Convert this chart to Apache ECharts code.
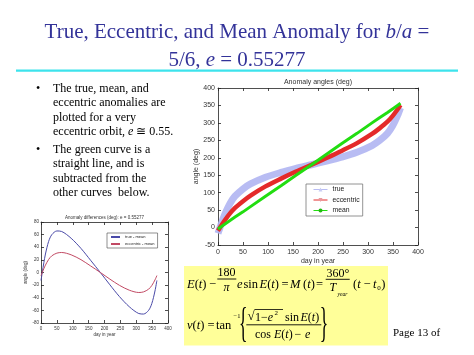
<!DOCTYPE html>
<html><head><meta charset="utf-8">
<script src="https://cdn.jsdelivr.net/npm/echarts@6/dist/echarts.min.js"></script>
<style>html,body{margin:0;padding:0;background:#fff}#c{width:474px;height:355px}</style>
</head><body><div id="c"></div>
<script>
// ---- data ----
const days = [0, 2, 4, 9, 14, 24, 34, 50, 65, 95, 126, 156, 187, 217, 247, 278, 308, 323, 339, 349, 359, 365];
const trueAngle = [-16.6, -8.3, 0, 20.6, 39.3, 69.2, 89.9, 110.8, 125.0, 144.2, 158.1, 169.5, 180, 190.5, 201.9, 215.8, 235.0, 249.2, 270.1, 290.8, 320.7, 343.4];
const eccentricAngle = [-8.9, -4.5, 0, 11.1, 21.7, 40.6, 56.4, 75.7, 91.7, 118.0, 140.3, 160.5, 180, 199.5, 219.7, 242.0, 268.3, 284.3, 303.6, 319.4, 338.3, 351.1];
const meanAngle = [-4, -2, 0, 5, 10, 20, 30, 45, 60, 90, 120, 150, 180, 210, 240, 270, 300, 315, 330, 340, 350, 356];
const trueMinusMean = [-12.6, -6.3, 0, 15.6, 29.3, 49.2, 59.9, 65.8, 65.0, 54.2, 38.1, 19.5, 0, -19.5, -38.1, -54.2, -65.0, -65.8, -59.9, -49.2, -29.3, -12.6];
const eccMinusMean = [-4.9, -2.5, 0, 6.1, 11.7, 20.6, 26.4, 30.7, 31.7, 28.0, 20.3, 10.5, 0, -10.5, -20.3, -28.0, -31.7, -30.7, -26.4, -20.6, -11.7, -4.9];
const mainSeriesNames = ['true', 'eccentric', 'mean'];
const diffSeriesNames = ['true - mean', 'eccentric - mean'];

const pair = arr => days.map((d, i) => [d, arr[i]]);
const SERIF = 'Liberation Serif';
const SANS = 'Liberation Sans';
const axisCol = '#222';

function boxAxes(gridIndex, min, max, interval, isX, fs, margin) {
  const base = {
    gridIndex, type: 'value', min, max, interval,
    axisLine: { show: true, onZero: false, lineStyle: { color: axisCol, width: 0.8 } },
    axisTick: { show: true, inside: true, length: 3, lineStyle: { color: axisCol, width: 0.8 } },
    splitLine: { show: false },
  };
  const a = Object.assign({}, base, {
    position: isX ? 'bottom' : 'left',
    axisLabel: { fontSize: fs, color: '#333', fontFamily: SANS, margin },
  });
  const b = Object.assign({}, base, {
    position: isX ? 'top' : 'right',
    axisLabel: { show: false },
  });
  return [a, b];
}

const mX = boxAxes(0, 0, 400, 50, true, 7, 4);
const mY = boxAxes(0, -50, 400, 50, false, 7, 3);
const sX = boxAxes(1, 0, 400, 50, true, 4.5, 3);
const sY = boxAxes(1, -80, 80, 20, false, 4.5, 2);
mX[0].name = 'day in year'; mX[0].nameLocation = 'middle'; mX[0].nameGap = 13;
mX[0].nameTextStyle = { fontSize: 7, color: '#333', fontFamily: SANS };
mY[0].name = 'angle (deg)'; mY[0].nameLocation = 'middle'; mY[0].nameGap = 17;
mY[0].nameTextStyle = { fontSize: 7, color: '#333', fontFamily: SANS };
sX[0].name = 'day in year'; sX[0].nameLocation = 'middle'; sX[0].nameGap = 8;
sX[0].nameTextStyle = { fontSize: 4.5, color: '#333', fontFamily: SANS };
sY[0].name = 'angle (deg)'; sY[0].nameLocation = 'middle'; sY[0].nameGap = 9;
sY[0].nameTextStyle = { fontSize: 4.5, color: '#333', fontFamily: SANS };

function txt(x, y, text, size, opt) {
  opt = opt || {};
  return {
    type: 'text', x, y, z: 10,
    style: Object.assign({
      text, fontSize: size, fontFamily: SERIF, fill: '#000',
      textAlign: 'left', align: 'left', textVerticalAlign: 'middle', verticalAlign: 'middle',
      rich: {
        i: { fontStyle: 'italic', fontSize: size, fontFamily: SERIF, fill: opt.fill || '#000' },
      }
    }, opt)
  };
}
const ctr = { textAlign: 'center', align: 'center' };
function hline(x1, x2, y, w, col) {
  return { type: 'line', z: 10, shape: { x1, y1: y, x2, y2: y }, style: { stroke: col || '#000', lineWidth: w || 1 } };
}
function brace(x, y, ch) {
  return { type: 'text', x, y, z: 10, scaleX: 0.42, style: { text: ch, fontSize: 42, fontFamily: SERIF, fill: '#000', textAlign: 'center', align: 'center', textVerticalAlign: 'middle', verticalAlign: 'middle' } };
}

const titleCol = '#333399';
const bullets = [
  ['The true, mean, and', 89],
  ['eccentric anomalies are', 103.2],
  ['plotted for a very', 117.4],
  ['eccentric orbit, {i|e} \u2245 0.55.', 131.6],
  ['The green curve is a', 150],
  ['straight line, and is', 164.2],
  ['subtracted from the', 178.4],
  ['other curves  below.', 192.6],
];

const F = 12.5, L1 = 284.5, L2 = 325.5;
const graphics = [
  txt(237, 32, 'True, Eccentric, and Mean Anomaly for {i|b}/{i|a} =', 21, Object.assign({ fill: titleCol }, ctr)),
  txt(237, 60.5, '5/6, {i|e} = 0.55277', 21, Object.assign({ fill: titleCol }, ctr)),
  hline(16, 458, 70.7, 2.2, '#3de3ec'),
  txt(36, 89, '\u2022', 12), txt(36, 150, '\u2022', 12),
  // formula box
  { type: 'rect', z: 5, shape: { x: 184, y: 266, width: 204, height: 79.5 }, style: { fill: '#ffff99' } },
  // line 1
  txt(187, L1, '{i|E}({i|t})', F),
  txt(209, L1, '\u2212', F),
  txt(226.5, 273, '180', 12, ctr),
  hline(217.3, 236.3, 279, 0.9),
  txt(226.5, 287.5, '{i|\u03c0}', 12, ctr),
  txt(237, L1, '{i|e}', F),
  txt(243.5, L1, 'sin', F),
  txt(259.5, L1, '{i|E}({i|t})', F),
  txt(281.5, L1, '=', F),
  txt(290, L1, '{i|M}', F),
  txt(303, L1, '({i|t})', F),
  txt(316, L1, '=', F),
  txt(338, 273.5, '360\u00b0', 12, ctr),
  hline(325.7, 349.7, 279.3, 0.9),
  txt(329.5, 287.5, '{i|T}', 12),
  txt(337.5, 295, '{i|year}', 5.5),
  txt(353, L1, '({i|t}', F),
  txt(363.5, L1, '\u2212', F),
  txt(373, L1, '{i|t}', F),
  txt(377.3, 288, '0', 7),
  txt(381.3, L1, ')', F),
  // line 2
  txt(187, L2, '{i|\u03bd}({i|t})', F),
  txt(207.5, L2, '=', F),
  txt(216, L2, 'tan', F),
  txt(233.5, 316, '\u22121', 6.5),
  brace(243.3, 324.5, '{'),
  txt(247.5, 317, '\u221a', 13),
  hline(254.5, 283, 309.5, 0.8),
  txt(255, 317.5, '1\u2212{i|e}', 12),
  txt(274.5, 313, '2', 7),
  txt(285, 317.5, 'sin', 12),
  txt(300.5, 317.5, '{i|E}({i|t})', 12),
  hline(246.3, 321.3, 324.8, 0.9),
  txt(255, 335, 'cos', 12),
  txt(274, 335, '{i|E}({i|t})', 12),
  txt(294.5, 335, '\u2212', 12),
  txt(305, 335, '{i|e}', 12),
  brace(324, 324.5, '}'),
  txt(393, 333, 'Page 13 of', 11),
  // chart titles
  { type: 'text', x: 318, y: 82, z: 10, style: { text: 'Anomaly angles (deg)', fontSize: 7, fontFamily: SANS, fill: '#333', textAlign: 'center', align: 'center', textVerticalAlign: 'middle', verticalAlign: 'middle' } },
  { type: 'text', x: 104.5, y: 217.5, z: 10, style: { text: 'Anomaly differences (deg): e = 0.55277', fontSize: 4.5, fontFamily: SANS, fill: '#333', textAlign: 'center', align: 'center', textVerticalAlign: 'middle', verticalAlign: 'middle' } },
];
bullets.forEach(b => graphics.push(txt(53, b[1], b[0], 12)));

const chart = echarts.init(document.getElementById('c'), null, { renderer: 'canvas' });
chart.setOption({
  animation: false,
  backgroundColor: '#fff',
  grid: [
    { left: 218, top: 88, width: 200, height: 157, show: false },
    { left: 41, top: 222, width: 127, height: 101, show: false },
  ],
  xAxis: [mX[0], mX[1], sX[0], sX[1]],
  yAxis: [mY[0], mY[1], sY[0], sY[1]],
  legend: [
    {
      data: mainSeriesNames,
      left: 306, top: 184, orient: 'vertical',
      itemWidth: 14, itemHeight: 5, itemGap: 3.5,
      padding: [2, 3, 2, 7],
      lineStyle: { width: 1 },
      textStyle: { fontSize: 6.8, color: '#222', fontFamily: SANS },
      borderColor: '#777', borderWidth: 0.8, backgroundColor: '#fff',
    },
    {
      data: diffSeriesNames,
      left: 107, top: 233, orient: 'vertical',
      itemWidth: 9, itemHeight: 2, itemGap: 3,
      padding: [2, 3, 2, 3],
      textStyle: { fontSize: 4, color: '#222', fontFamily: SANS },
      borderColor: '#444', borderWidth: 0.6, backgroundColor: '#fff',
    }
  ],
  series: [
    { name: mainSeriesNames[0], type: 'line', xAxisIndex: 0, yAxisIndex: 0, data: pair(trueAngle), smooth: 0.3, showSymbol: false, symbol: 'triangle', symbolSize: 5,
      lineStyle: { color: '#b0b5f2', width: 7, opacity: 0.9 }, itemStyle: { color: '#c8ccf4' } },
    { name: mainSeriesNames[1], type: 'line', xAxisIndex: 0, yAxisIndex: 0, data: pair(eccentricAngle), smooth: 0.3, showSymbol: false, symbol: 'triangle', symbolRotate: 180, symbolSize: 5,
      lineStyle: { color: '#e42a2a', width: 4.5 }, itemStyle: { color: '#e89aa0' } },
    { name: mainSeriesNames[2], type: 'line', xAxisIndex: 0, yAxisIndex: 0, data: pair(meanAngle), smooth: false, showSymbol: false, symbol: 'circle', symbolSize: 4,
      lineStyle: { color: '#22dd11', width: 3 }, itemStyle: { color: '#22bb11' } },
    { name: diffSeriesNames[0], type: 'line', xAxisIndex: 2, yAxisIndex: 2, data: pair(trueMinusMean), smooth: 0.3, showSymbol: false, symbol: 'none',
      lineStyle: { color: '#4a4aa8', width: 1 }, itemStyle: { color: '#4a4aa8' } },
    { name: diffSeriesNames[1], type: 'line', xAxisIndex: 2, yAxisIndex: 2, data: pair(eccMinusMean), smooth: 0.3, showSymbol: false, symbol: 'none',
      lineStyle: { color: '#c24a64', width: 1 }, itemStyle: { color: '#c24a64' } },
  ],
  graphic: graphics,
});
</script></body></html>
